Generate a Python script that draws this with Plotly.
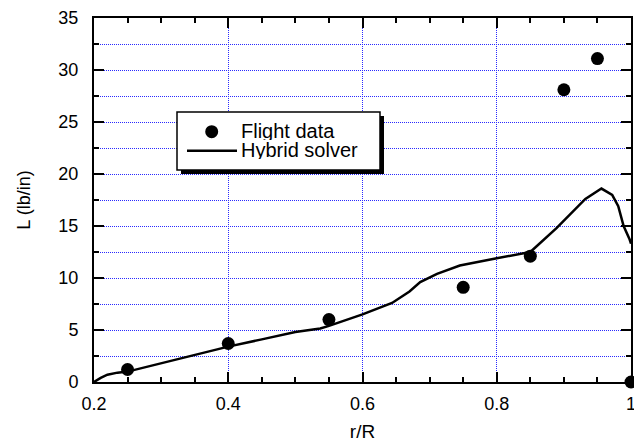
import plotly.graph_objects as go

# Flight data
flight_x = [0.25, 0.40, 0.55, 0.75, 0.85, 0.90, 0.95, 1.00]
flight_y = [1.2, 3.7, 6.0, 9.1, 12.1, 28.1, 31.1, 0.0]

# Hybrid solver curve
solver_x = [0.20, 0.21, 0.22, 0.235, 0.25, 0.30, 0.35, 0.40, 0.45, 0.50, 0.537, 0.55,
            0.60, 0.644, 0.67, 0.686, 0.711, 0.745, 0.80, 0.85, 0.889, 0.932, 0.956,
            0.972, 0.981, 0.989, 0.998, 1.00]
solver_y = [0.0, 0.4, 0.7, 0.9, 1.0, 1.8, 2.6, 3.4, 4.1, 4.8, 5.15, 5.4,
            6.5, 7.6, 8.7, 9.6, 10.4, 11.2, 11.9, 12.5, 14.8, 17.6, 18.6,
            18.0, 16.9, 15.0, 13.7, 13.3]

legend_labels = ["Flight data", "Hybrid solver"]

FONT = "Liberation Sans, Arial, sans-serif"
# page body has an 8px default margin, so the figure is shifted by 8px
OFF = 8
W, H = 642 - OFF, 446 - OFF
L, R, T, B = 94 - OFF, 11, 18 - OFF, 64
PW, PH = W - L - R, H - T - B


def px2paper(x, y):
    """page pixel -> paper coords"""
    return (x - OFF - L) / PW, (H - B - (y - OFF)) / PH


fig = go.Figure()
fig.add_trace(go.Scatter(
    x=flight_x, y=flight_y, mode="markers", name=legend_labels[0],
    marker=dict(color="black", size=13), cliponaxis=False))
fig.add_trace(go.Scatter(
    x=solver_x, y=solver_y, mode="lines", name=legend_labels[1],
    line=dict(color="black", width=2.5)))

# legend box with drop shadow (drawn by hand to match the reference spacing)
bx0, by0, bx1, by1 = 177, 112, 380, 170
shapes = []
sx0, sy0 = px2paper(bx0 + 4, by1 + 4)
sx1, sy1 = px2paper(bx1 + 4, by0 + 4)
shapes.append(dict(type="rect", xref="paper", yref="paper", x0=sx0, y0=sy0, x1=sx1, y1=sy1,
                   fillcolor="black", line=dict(width=0), layer="above"))
x0, y0 = px2paper(bx0, by1)
x1, y1 = px2paper(bx1, by0)
shapes.append(dict(type="rect", xref="paper", yref="paper", x0=x0, y0=y0, x1=x1, y1=y1,
                   fillcolor="white", line=dict(color="black", width=1.5), layer="above"))
# marker symbol
cx0, cy0 = px2paper(211.7 - 6.5, 131.7 + 6.5)
cx1, cy1 = px2paper(211.7 + 6.5, 131.7 - 6.5)
shapes.append(dict(type="circle", xref="paper", yref="paper", x0=cx0, y0=cy0, x1=cx1, y1=cy1,
                   fillcolor="black", line=dict(width=0), layer="above"))
# line symbol
lx0, ly0 = px2paper(187, 150.7)
lx1, _ = px2paper(237, 150.7)
shapes.append(dict(type="line", xref="paper", yref="paper", x0=lx0, y0=ly0, x1=lx1, y1=ly0,
                   line=dict(color="black", width=2.5), layer="above"))

annotations = []
for label, ypx in zip(legend_labels, [130.5, 149.5]):
    ax, ay = px2paper(239, ypx)
    annotations.append(dict(text=label, xref="paper", yref="paper", x=ax, y=ay,
                            xanchor="left", yanchor="middle", showarrow=False,
                            height=18, valign="middle",
                            font=dict(family=FONT, size=20, color="black")))

GRID = "#2a2aff"
axis_common = dict(
    showline=True, linecolor="black", linewidth=2, mirror="ticks",
    ticks="inside", tickcolor="black", tickwidth=2,
    tickfont=dict(family=FONT, size=18, color="black"),
    showgrid=True, gridcolor=GRID, gridwidth=1, griddash="1px,1px",
    zeroline=False, automargin=False,
)

fig.update_layout(
    width=W, height=H,
    margin=dict(l=L, r=R, t=T, b=B),
    paper_bgcolor="white", plot_bgcolor="white",
    showlegend=False,
    shapes=shapes,
    annotations=annotations,
    xaxis=dict(range=[0.2, 1.0], dtick=0.2, tick0=0.2, ticklen=10,
               tickformat="~g", ticklabelstandoff=4,
               title=dict(text="r/R", font=dict(family=FONT, size=19, color="black"),
                          standoff=12),
               minor=dict(dtick=0.05, ticks="inside", ticklen=5, tickcolor="black",
                          showgrid=False),
               **axis_common),
    yaxis=dict(range=[0, 35], dtick=5, ticklen=10, ticklabelstandoff=10,
               title=dict(text="L (lb/in)", font=dict(family=FONT, size=18, color="black"),
                          standoff=23),
               minor=dict(dtick=2.5, ticks="inside", ticklen=5, tickcolor="black",
                          showgrid=True, gridcolor=GRID, griddash="1px,1px"),
               **axis_common),
)

fig.write_html("out.html")
